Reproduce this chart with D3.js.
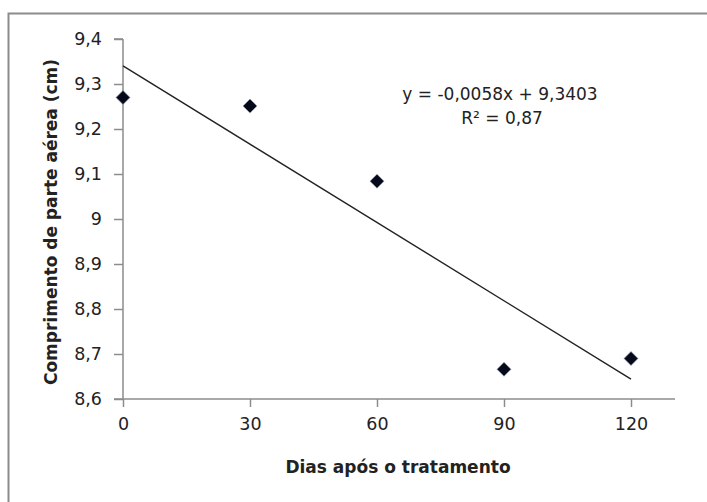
<!DOCTYPE html>
<html>
<head>
<meta charset="utf-8">
<script src="https://cdn.jsdelivr.net/npm/d3@7"></script>
<style>
  body { margin: 0; background: #fff; }
  svg text { font-family: "DejaVu Sans", Verdana, sans-serif; fill: #222; }
</style>
</head>
<body>
<div id="chart"></div>
<script>
// Data
const days = [0, 30, 60, 90, 120];
const lengths = [9.270, 9.251, 9.084, 8.666, 8.690];
const yTicks = [8.6, 8.7, 8.8, 8.9, 9.0, 9.1, 9.2, 9.3, 9.4];
const trendSlope = -0.0058;
const trendIntercept = 9.3403;
const equationLines = ["y = -0,0058x + 9,3403", "R² = 0,87"];

const width = 707, height = 502;

const svg = d3.select("#chart").append("svg")
    .attr("width", width)
    .attr("height", height);

// chart border (only top and left visible in the crop)
svg.append("rect")
    .attr("x", 8.5).attr("y", 13.5)
    .attr("width", 720).attr("height", 520)
    .attr("fill", "none")
    .attr("stroke", "#8c8c8c")
    .attr("stroke-width", 2);

const x = d3.scaleLinear().domain([0, 120]).range([123, 631]);
const y = d3.scaleLinear().domain([8.6, 9.4]).range([399, 39]);

// y axis
const yAxis = svg.append("g")
    .attr("transform", "translate(123,0)")
    .call(d3.axisLeft(y).tickValues(yTicks).tickSize(9).tickPadding(12)
        .tickFormat(d => d === 9 ? "9" : d3.format(".1f")(d).replace(".", ",")));
yAxis.select(".domain").attr("stroke", "#8c8c8c").attr("stroke-width", 1.5)
    .attr("d", `M0,${y(9.4)}H-9M0,${y(9.4)}V${y(8.6)}`);
yAxis.selectAll(".tick line").attr("stroke", "#8c8c8c").attr("stroke-width", 1.5);
yAxis.selectAll(".tick text").attr("font-size", 17.5).style("fill", "#222");

// x axis
const xAxis = svg.append("g")
    .attr("transform", `translate(0,${y(8.6)})`)
    .call(d3.axisBottom(x).tickValues(days).tickSize(8).tickPadding(11)
        .tickFormat(d3.format("d")));
xAxis.select(".domain").attr("stroke", "#8c8c8c").attr("stroke-width", 1.5)
    .attr("d", `M${x(0) - 9},0H675`);
xAxis.selectAll(".tick line").attr("stroke", "#8c8c8c").attr("stroke-width", 1.5);
xAxis.selectAll(".tick text").attr("font-size", 17.5).style("fill", "#222");

// trend line
svg.append("line")
    .attr("x1", x(0)).attr("y1", y(trendIntercept))
    .attr("x2", x(120)).attr("y2", y(trendIntercept + trendSlope * 120))
    .attr("stroke", "#222")
    .attr("stroke-width", 1.4);

// diamond markers
svg.selectAll("path.pt")
    .data(days.map((d, i) => ({ d, v: lengths[i] })))
    .enter().append("path")
    .attr("class", "pt")
    .attr("transform", p => `translate(${x(p.d)},${y(p.v)})`)
    .attr("d", "M0,-7L7,0L0,7L-7,0Z")
    .attr("fill", "#05091a")
    .attr("stroke", "#9aa3b8")
    .attr("stroke-width", 0.6);

// equation
svg.append("text")
    .attr("x", 500).attr("y", 100)
    .attr("text-anchor", "middle")
    .attr("font-size", 17)
    .text(equationLines[0]);
svg.append("text")
    .attr("x", 502).attr("y", 124)
    .attr("text-anchor", "middle")
    .attr("font-size", 17)
    .text(equationLines[1]);

// axis titles
svg.append("text")
    .attr("x", 398).attr("y", 473)
    .attr("text-anchor", "middle")
    .attr("font-size", 17)
    .attr("font-weight", "bold")
    .text("Dias após o tratamento");

svg.append("text")
    .attr("transform", "translate(57,222) rotate(-90)")
    .attr("text-anchor", "middle")
    .attr("font-size", 17)
    .attr("font-weight", "bold")
    .text("Comprimento de parte aérea (cm)");
</script>
</body>
</html>
